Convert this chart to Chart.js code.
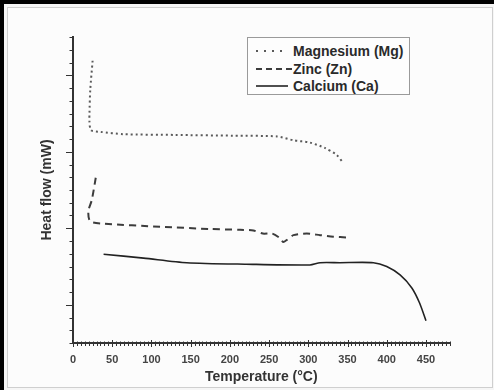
<!DOCTYPE html>
<html>
<head>
<meta charset="utf-8">
<script src="https://cdn.jsdelivr.net/npm/chart.js@4/dist/chart.umd.min.js"></script>
<style>
  html, body { margin: 0; padding: 0; background: #f6f6f6; }
  #wrap { position: relative; width: 494px; height: 390px; overflow: hidden; background: #f6f6f6; }
  #blackTop { position: absolute; left: 0; top: 0; width: 494px; height: 4px; background: #000; }
  #blackLeft { position: absolute; left: 0; top: 0; width: 4px; height: 390px; background: #000; }
  #panel { position: absolute; left: 7px; top: 7px; width: 484px; height: 379px; border: 1px solid #cfcfcf; background: #fcfcfc; }
  #chart { position: absolute; left: 0; top: 0; }
  #legend { position: absolute; left: 247px; top: 37px; width: 161px; height: 56px; border: 1px solid #9a9a9a; background: #fdfdfd;
            font-family: "Liberation Sans", Arial, sans-serif; font-weight: bold; font-size: 14px; color: #2a2a2a; }
  .row { position: absolute; left: 8px; height: 18px; line-height: 18px; white-space: nowrap; }
  .row svg { position: absolute; left: 0; top: 0; }
  .row span { position: absolute; left: 37px; top: 0; }
</style>
</head>
<body>
<div id="wrap">
  <div id="blackTop"></div>
  <div id="blackLeft"></div>
  <div id="panel"></div>
  <canvas id="chart" width="494" height="390"></canvas>
  <div id="legend"></div>
</div>
<script>
// ---- data ----
const seriesNames = ["Magnesium (Mg)", "Zinc (Zn)", "Calcium (Ca)"];

const tempMg = [25, 22, 21, 21, 23, 35, 64, 130, 204, 260, 281, 302, 321, 336, 344];
const heatMg = [3.69, 3.31, 3.01, 2.89, 2.78, 2.76, 2.73, 2.72, 2.71, 2.70, 2.65, 2.62, 2.55, 2.46, 2.36];

const tempZn = [29, 24, 19.5, 22, 39, 111, 175, 213, 230, 242, 254, 264, 268, 273, 281, 298, 315, 332, 349];
const heatZn = [2.16, 1.87, 1.72, 1.59, 1.56, 1.52, 1.49, 1.48, 1.47, 1.43, 1.43, 1.37, 1.32, 1.35, 1.41, 1.43, 1.41, 1.39, 1.38];

const tempCa = [39, 90, 145, 221, 302, 315, 340, 383, 400, 417, 432, 442, 450];
const heatCa = [1.16, 1.11, 1.05, 1.03, 1.02, 1.05, 1.05, 1.05, 1.00, 0.89, 0.72, 0.52, 0.29];

const xTickLabels = [0, 50, 100, 150, 200, 250, 300, 350, 400, 450];

const xTitle = "Temperature (°C)";
const yTitle = "Heat flow (mW)";

function pts(xs, ys) { return xs.map((x, i) => ({ x: x, y: ys[i] })); }

const styles = [
  { color: "#5a5a5a", width: 2, dash: [2, 3] },
  { color: "#3c3c3c", width: 2, dash: [7, 5] },
  { color: "#222222", width: 1.6, dash: [] }
];

const minorTicks = {
  id: "minorTicks",
  afterDraw(chart) {
    const ctx = chart.ctx;
    const xs = chart.scales.x, ys = chart.scales.y;
    const yAxis = ys.bottom, xAxis = xs.left;
    ctx.save();
    ctx.strokeStyle = "#333";
    ctx.lineWidth = 1;
    for (let v = 0; v <= 480; v += 5) {
      const px = Math.round(xs.getPixelForValue(v)) + 0.5;
      const major = v % 50 === 0;
      ctx.beginPath();
      ctx.moveTo(px, yAxis - (major ? 3 : 1.5));
      ctx.lineTo(px, yAxis + (major ? 4 : 3));
      ctx.stroke();
    }
    for (let k = -3; k <= 21; k++) {
      const v = 0.5 + k / 6;
      if (v < 0 || v > 4) continue;
      const py = Math.round(ys.getPixelForValue(v)) + 0.5;
      const major = k % 6 === 0;
      ctx.beginPath();
      ctx.moveTo(xAxis - (major ? 7 : 3.5), py);
      ctx.lineTo(xAxis, py);
      ctx.stroke();
    }
    ctx.restore();
  }
};

const fontFam = "'Liberation Sans', Arial, sans-serif";

new Chart(document.getElementById("chart"), {
  type: "line",
  data: {
    datasets: [
      { label: seriesNames[0], data: pts(tempMg, heatMg) },
      { label: seriesNames[1], data: pts(tempZn, heatZn) },
      { label: seriesNames[2], data: pts(tempCa, heatCa) }
    ].map((d, i) => Object.assign(d, {
      borderColor: styles[i].color,
      borderWidth: styles[i].width,
      borderDash: styles[i].dash,
      pointRadius: 0,
      tension: 0.25,
      fill: false
    }))
  },
  options: {
    responsive: false,
    animation: false,
    layout: { padding: { left: 0, top: 37, right: 44.5, bottom: 0 } },
    plugins: { legend: { display: false }, tooltip: { enabled: false } },
    scales: {
      x: {
        type: "linear", min: 0, max: 480,
        grid: { display: false },
        border: { display: true, color: "#333", width: 2 },
        ticks: {
          stepSize: 50, includeBounds: false, autoSkip: false, maxRotation: 0, padding: 2,
          color: "#444", font: { family: fontFam, size: 11, weight: "bold" },
          callback: (v) => xTickLabels.includes(v) ? String(v) : ""
        },
        title: { display: true, text: xTitle, color: "#333", padding: { top: 0, bottom: 4 },
                 font: { family: fontFam, size: 14, weight: "bold" } },
        afterFit: (s) => { s.height = 47; }
      },
      y: {
        type: "linear", min: 0, max: 4,
        grid: { display: false },
        border: { display: true, color: "#333", width: 2 },
        ticks: { display: false },
        title: { display: true, text: yTitle, color: "#333", padding: { top: 39, bottom: 0 },
                 font: { family: fontFam, size: 14, weight: "bold" } },
        afterFit: (s) => { s.width = 73; }
      }
    }
  },
  plugins: [minorTicks]
});

// HTML legend built from series names and styles
const legend = document.getElementById("legend");
seriesNames.forEach((name, i) => {
  const row = document.createElement("div");
  row.className = "row";
  row.style.top = (4 + i * 17.5) + "px";
  const st = styles[i];
  row.innerHTML = '<svg width="36" height="18"><line x1="0" y1="9" x2="' + (i === 1 ? 36 : 32) + '" y2="9" stroke="' + st.color +
    '" stroke-width="' + st.width + '" stroke-dasharray="' + (i === 0 ? "2,6" : (st.dash.length ? "6,4" : "none")) + '"/></svg><span>' + name + '</span>';
  legend.appendChild(row);
});
</script>
</body>
</html>
